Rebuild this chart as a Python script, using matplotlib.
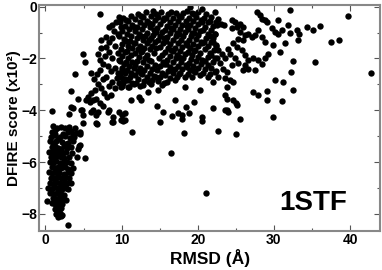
import matplotlib
matplotlib.use("Agg")
import matplotlib.pyplot as plt
from matplotlib.ticker import MultipleLocator

# near-native decoys (low RMSD, low score)
near_rmsd = [1.0, 1.5, 2.0, 2.6, 3.1, 0.8, 1.3, 2.9, 3.4, 4.0, 0.7, 1.1, 1.9, 2.6, 3.2, 3.8,
             0.6, 1.0, 1.4, 2.2, 3.0, 3.6, 4.4, 0.8, 1.2, 1.7, 2.4, 2.8, 3.3,
             0.5, 0.9, 1.3, 1.8, 2.3, 2.7, 3.5, 0.7, 1.1, 1.5, 2.0, 2.5, 3.1, 4.1,
             0.6, 1.0, 1.4, 1.9, 2.2, 2.8, 3.3, 0.8, 1.2, 1.6, 2.1, 2.6, 3.0, 3.6,
             0.5, 0.9, 1.3, 1.8, 2.4, 2.9, 3.4, 0.7, 1.1, 1.5, 2.0, 2.5, 3.1,
             0.6, 1.0, 1.4, 1.9, 2.3, 2.8, 3.3, 0.4, 0.9, 1.3, 1.7, 2.2, 2.7, 3.0,
             0.6, 1.1, 1.5, 2.0, 2.5, 1.0, 1.4, 1.8, 2.3, 2.7, 0.9, 1.3, 1.7, 2.2,
             1.2, 1.6, 2.1, 1.4, 1.9, 2.2, 1.6, 2.0,
             0.15, 3.0, 5.2, 0.9, 3.04,
             1.2, 2.3, 1.6, 2.7, 2.0, 1.0, 2.4, 1.7, 2.6, 1.2, 2.1, 1.6, 2.3, 1.9, 1.5,
             4.3, 3.9, 4.5]
near_score = [-4.62, -4.68, -4.64, -4.70, -4.66, -4.83, -4.78, -4.85, -4.80, -4.88,
              -5.02, -4.97, -5.05, -5.00, -5.08, -5.03,
              -5.20, -5.25, -5.18, -5.22, -5.27, -5.20, -5.37, -5.42, -5.38, -5.45, -5.40, -5.47, -5.43,
              -5.60, -5.63, -5.58, -5.62, -5.66, -5.60, -5.65, -5.80, -5.84, -5.78, -5.82, -5.86, -5.80, -5.82,
              -6.00, -6.04, -5.98, -6.02, -6.06, -6.00, -6.03, -6.20, -6.23, -6.18, -6.24, -6.20, -6.26, -6.22,
              -6.40, -6.44, -6.38, -6.42, -6.46, -6.40, -6.43, -6.60, -6.63, -6.58, -6.62, -6.66, -6.60,
              -6.80, -6.84, -6.78, -6.82, -6.86, -6.80, -6.83, -7.00, -7.04, -6.98, -7.02, -7.06, -7.00, -7.03,
              -7.20, -7.24, -7.18, -7.22, -7.26, -7.40, -7.44, -7.38, -7.42, -7.46, -7.60, -7.64, -7.58, -7.62,
              -7.80, -7.84, -7.78, -8.00, -7.96, -8.03, -8.12, -8.10,
              -7.51, -8.42, -5.86, -4.04, -4.15,
              -4.90, -4.90, -5.10, -5.30, -5.50, -5.70, -5.95, -6.30, -6.50, -6.70, -6.90, -7.10, -7.30, -7.50, -7.70,
              -5.50, -4.70, -4.90]

# rising band between the native cluster and the main cloud
mid_rmsd = [4.97, 5.14, 3.83, 3.4, 4.26, 3.39, 3.6, 4.7, 4.9, 4.85, 6.0, 6.3, 6.9, 6.6, 6.8,
            8.2, 8.4, 8.9, 8.8, 9.7, 10.1, 9.9, 10.4, 10.4,
            5.6, 5.3, 5.9, 6.3, 6.7, 7.2, 7.6, 8.1, 8.6, 6.0, 6.5, 6.9, 7.3, 7.7, 6.4, 6.8, 6.0,
            7.2, 7.5, 8.0, 8.3, 8.7, 9.1, 9.4, 9.7, 10.1, 10.4, 10.8, 6.9, 7.2, 7.6, 7.3, 7.8, 8.2,
            8.6, 8.0, 8.4, 8.8, 9.2, 9.5, 7.98, 7.3, 8.4, 8.8, 9.2, 9.5, 9.8, 10.0, 8.4, 8.7, 9.3,
            9.7, 9.0, 9.5, 9.9, 7.15, 4.96, 6.7, 8.9, 10.2, 4.5, 4.5, 3.65]
mid_score = [-1.83, -2.14, -2.61, -3.25, -3.58, -3.87, -3.93, -4.00, -4.20, -4.00, -4.06, -4.00, -4.06, -4.20, -4.54,
             -4.06, -4.00, -4.25, -4.44, -4.06, -4.19, -4.38, -4.10, -4.37,
             -3.48, -3.60, -3.70, -3.62, -3.55, -3.72, -3.85, -3.50, -3.40, -3.35, -3.20, -3.00, -3.15, -3.35, -2.80, -2.60, -2.56,
             -2.45, -2.80, -2.70, -3.05, -2.90, -3.15, -2.75, -2.95, -3.05, -2.80, -3.10, -1.81, -2.05, -2.20, -1.60, -1.90, -2.30,
             -2.50, -1.55, -1.75, -2.00, -2.35, -2.55, -1.17, -1.30, -1.36, -1.20, -1.50, -1.80, -2.10, -2.45, -0.78, -0.72, -0.59,
             -0.39, -0.95, -1.05, -0.80, -0.30, -4.48, -4.51, -4.45, -4.42, -4.83, -5.35, -4.96]

# dense main cloud, RMSD 10-22
main_rmsd = [10.2, 9.8, 10.4, 10.0, 9.7, 10.3, 10.1, 9.9, 10.4, 10.0, 9.7, 10.3, 10.1, 9.8, 10.4, 10.0, 10.2, 9.9,
             11.2, 10.8, 11.4, 11.0, 10.7, 11.3, 11.1, 10.9, 11.4, 10.7, 11.2, 10.9, 11.4, 11.0, 10.7, 11.3, 11.1, 10.8, 11.4, 11.0, 11.3,
             12.1, 11.8, 12.4, 12.0, 11.7, 12.3, 12.0, 11.8, 12.4, 12.1, 11.7, 12.3, 12.0, 11.8, 12.4, 12.1, 11.7, 12.2, 11.9, 12.4, 12.6, 12.3,
             13.2, 12.8, 13.4, 13.0, 12.7, 13.3, 13.1, 12.8, 13.4, 13.0, 12.7, 13.3, 13.1, 12.8, 13.4, 13.0, 12.7, 13.3, 13.0, 12.8, 13.5,
             14.1, 13.8, 14.4, 14.0, 13.7, 14.3, 14.1, 13.8, 14.4, 14.0, 13.7, 14.3, 13.9, 14.4, 14.0, 13.7, 14.3, 14.0, 13.8, 14.6, 14.8,
             15.2, 14.8, 15.4, 15.0, 14.7, 15.3, 15.0, 14.8, 15.4, 15.1, 15.3, 14.9, 15.4, 15.0, 14.7, 15.3, 15.1, 14.8, 15.3, 15.5, 15.0,
             16.1, 15.8, 16.4, 16.0, 15.7, 16.3, 16.0, 15.8, 16.4, 16.1, 15.7, 16.3, 16.0, 15.8, 16.4, 16.1, 15.7, 16.3, 16.0, 16.6, 16.43,
             17.1, 16.8, 17.4, 17.0, 16.7, 17.3, 17.1, 16.8, 17.4, 17.0, 16.7, 17.3, 17.1, 16.8, 17.4, 17.0, 16.7, 17.3, 17.0, 17.0, 17.4,
             18.1, 17.8, 18.4, 18.0, 17.7, 18.3, 18.1, 17.8, 18.4, 18.0, 17.7, 18.3, 18.1, 17.8, 18.4, 18.0, 17.7, 18.3, 18.3, 17.9, 17.9, 18.5, 18.2,
             18.97, 19.2, 18.8, 19.4, 19.0, 18.7, 19.3, 19.1, 18.8, 19.4, 19.0, 18.7, 19.3, 19.1, 18.8, 19.4, 19.0, 18.7, 19.3, 18.9, 19.5,
             20.1, 19.8, 20.4, 20.0, 19.7, 20.3, 20.0, 19.8, 20.4, 20.1, 19.7, 20.3, 20.0, 19.8, 20.4, 20.1, 19.7, 20.3, 20.3, 20.5, 20.6,
             21.1, 20.8, 21.4, 21.0, 20.7, 21.3, 21.1, 20.8, 21.4, 21.0, 21.3, 20.9, 21.4, 21.0, 20.7, 21.3, 21.15,
             22.3, 21.8, 22.4, 22.0, 21.7, 22.3, 22.0, 21.8, 22.4, 22.1, 21.7, 22.3, 22.0, 21.8, 22.4, 22.0, 22.0, 22.6,
             11.4]
main_score = [-0.42, -0.60, -0.75, -0.95, -1.15, -1.25, -1.45, -1.62, -1.75, -1.90, -2.05, -2.20, -2.35, -2.60, -2.55, -2.75, -2.95, -3.10,
              -0.35, -0.55, -0.70, -0.88, -1.05, -1.15, -1.32, -1.50, -1.60, -1.72, -1.85, -2.00, -2.15, -2.30, -2.45, -2.55, -2.70, -2.85, -2.95, -3.10, -3.60,
              -0.30, -0.48, -0.60, -0.78, -0.95, -1.05, -1.22, -1.40, -1.50, -1.65, -1.80, -1.95, -2.10, -2.25, -2.35, -2.50, -2.65, -2.80, -2.95, -3.05, -3.60, -3.48,
              -0.20, -0.40, -0.55, -0.70, -0.85, -1.00, -1.15, -1.30, -1.42, -1.58, -1.72, -1.85, -2.00, -2.15, -2.30, -2.45, -2.60, -2.72, -2.88, -3.02, -3.30,
              -0.15, -0.35, -0.50, -0.65, -0.80, -0.92, -1.08, -1.22, -1.35, -1.50, -1.65, -1.78, -2.10, -2.25, -2.40, -2.55, -2.68, -2.82, -2.98, -3.83, -3.20,
              -0.20, -0.38, -0.52, -0.68, -0.83, -0.97, -1.12, -1.28, -1.40, -1.55, -1.85, -2.00, -2.15, -2.30, -2.45, -2.58, -2.72, -2.88, -3.02, -4.06, -4.47,
              -0.30, -0.45, -0.60, -0.75, -0.90, -1.02, -1.18, -1.32, -1.45, -1.60, -1.75, -1.90, -2.05, -2.20, -2.32, -2.48, -2.62, -2.75, -2.90, -4.21, -5.67,
              -0.25, -0.42, -0.55, -0.70, -0.88, -1.00, -1.15, -1.30, -1.42, -1.58, -1.72, -1.85, -2.00, -2.15, -2.28, -2.42, -2.58, -2.70, -2.85, -3.60, -4.10,
              -0.25, -0.40, -0.55, -0.70, -0.85, -0.98, -1.12, -1.28, -1.40, -1.55, -1.70, -1.82, -1.98, -2.12, -2.25, -2.40, -2.55, -2.70, -3.10, -4.19, -4.34, -3.89, -4.87,
              -0.02, -0.25, -0.42, -0.55, -0.72, -0.88, -1.00, -1.15, -1.30, -1.45, -1.60, -1.75, -1.88, -2.02, -2.18, -2.30, -2.45, -2.60, -2.72, -4.12, -3.68,
              -0.20, -0.38, -0.52, -0.68, -0.82, -0.95, -1.10, -1.25, -1.38, -1.52, -1.68, -1.80, -1.95, -2.10, -2.22, -2.38, -2.52, -2.65, -3.22, -4.25, -4.41,
              -0.30, -0.45, -0.60, -0.78, -0.92, -1.05, -1.22, -1.38, -1.50, -1.65, -1.95, -2.10, -2.25, -2.40, -2.55, -2.70, -7.19,
              -0.20, -0.40, -0.58, -0.75, -0.90, -1.05, -1.20, -1.38, -1.50, -1.68, -1.85, -2.00, -2.15, -2.35, -2.50, -2.90, -3.93, -4.79,
              -4.86]

# extra decoys filling the gaps of the main cloud
fill_rmsd = [10.55, 10.55, 10.55, 10.55, 11.6, 11.6, 11.6, 11.6, 12.5, 12.5, 12.5, 12.5,
             13.55, 13.55, 13.55, 13.55, 14.5, 14.5, 14.5, 14.5, 15.6, 15.6, 15.6, 15.6,
             16.55, 16.55, 16.55, 16.55, 17.5, 17.5, 17.5, 17.5, 18.6, 18.6, 18.6, 18.6,
             19.55, 19.55, 19.55, 19.55, 20.5, 20.5, 20.5, 20.5, 21.6, 21.6, 21.6, 21.6]
fill_score = [-0.52, -1.33, -2.12, -2.83, -0.78, -1.41, -2.38, -3.00, -0.36, -1.12, -1.74, -2.57,
              -0.62, -1.27, -2.06, -2.91, -0.27, -0.98, -1.58, -2.73, -0.45, -1.20, -2.22, -2.95,
              -0.20, -0.83, -1.66, -2.40, -0.35, -1.05, -1.93, -2.60, -0.15, -0.75, -1.47, -2.33,
              -0.30, -1.02, -1.70, -2.50, -0.10, -0.60, -1.42, -2.05, -0.55, -1.15, -1.80, -2.60]

# sparser decoys at high RMSD
far_rmsd = [22.6, 22.5, 23.0, 23.4, 22.29, 22.07, 22.37, 22.72, 23.16, 23.6, 22.5, 22.94, 23.38, 23.82, 22.29, 22.72,
            23.6, 24.26, 24.69, 24.47, 24.9, 25.13, 24.56, 25.57, 26.0, 25.57, 26.22, 26.66, 27.1, 27.54, 26.0, 25.35,
            24.69, 25.13, 25.79, 26.22, 26.66, 27.32, 27.97, 28.41, 27.54, 26.66, 26.22, 26.0, 25.35, 24.9, 24.26, 24.04,
            24.47, 23.82, 23.6, 23.82, 24.69, 25.0, 23.82, 29.94, 27.32, 27.97, 29.07, 29.07, 30.16, 31.25, 32.57, 31.04,
            32.26, 32.57, 30.82, 29.94, 29.29, 28.85, 31.47, 33.22, 33.0, 33.31, 31.91, 30.6, 29.72, 30.16, 30.6, 31.04,
            32.13, 27.75, 28.19, 28.41, 28.85, 29.07, 27.97, 28.41, 28.85, 32.1,
            23.6, 24.0, 25.1, 25.5, 25.0,
            39.7, 34.4, 35.1, 36.1, 37.5, 38.5, 35.4, 42.7]
far_score = [-0.46, -0.71, -0.65, -0.71, -1.04, -1.36, -1.49, -1.68, -1.81, -2.00, -2.00, -2.19, -2.39, -2.52, -2.52, -2.71,
             -2.77, -2.84, -2.90, -0.52, -0.59, -0.78, -0.84, -0.65, -0.78, -0.97, -1.10, -1.04, -1.17, -1.10, -1.29, -1.23,
             -1.42, -1.55, -1.68, -1.87, -2.07, -2.00, -2.07, -2.20, -2.45, -2.39, -2.26, -2.45, -2.19, -2.00, -1.81, -1.62,
             -2.26, -3.10, -3.42, -3.55, -3.61, -3.74, -4.00, -4.25, -3.29, -3.42, -3.25, -3.61, -2.84, -2.90, -3.22, -3.65,
             -2.52, -2.09, -1.74, -1.49, -1.81, -2.00, -1.42, -1.29, -0.91, -1.04, -0.71, -0.52, -0.84, -0.97, -1.04, -0.91,
             -0.14, -0.20, -0.33, -0.46, -0.52, -0.59, -0.91, -1.17, -1.36, -1.00,
             -4.00, -4.06, -3.80, -4.32, -4.90,
             -0.37, -0.80, -0.91, -0.74, -1.36, -1.29, -2.14, -2.56]

label_font = ["Liberation Sans", "DejaVu Sans"]

fig = plt.figure(figsize=(3.82, 2.70), dpi=100)
ax = fig.add_axes([0.102, 0.144, 0.894, 0.837])

for xs, ys in [(near_rmsd, near_score), (mid_rmsd, mid_score), (main_rmsd, main_score),
               (fill_rmsd, fill_score), (far_rmsd, far_score)]:
    ax.scatter(xs, ys, s=21, c="black", linewidths=0)

ax.set_xlim(-0.85, 44.0)
ax.set_ylim(-8.67, 0.06)
ax.xaxis.set_major_locator(MultipleLocator(10))
ax.xaxis.set_minor_locator(MultipleLocator(5))
ax.yaxis.set_major_locator(MultipleLocator(2))
ax.yaxis.set_minor_locator(MultipleLocator(1))
ax.tick_params(which="both", direction="in", top=True, right=True,
               color="#555555", width=0.8)
ax.tick_params(which="major", length=4, labelsize=10, pad=1.5)
ax.tick_params(which="minor", length=2.5)
for lab in ax.get_xticklabels() + ax.get_yticklabels():
    lab.set_fontfamily(label_font)
    lab.set_fontweight("bold")
for sp in ax.spines.values():
    sp.set_color("#888888")
    sp.set_linewidth(1.5)

ax.set_xlabel("RMSD (Å)", fontsize=12.5, fontweight="bold", family=label_font, labelpad=1)
ax.set_ylabel("DFIRE score (x10²)", fontsize=11, fontweight="bold", family=label_font)
ax.yaxis.set_label_coords(-0.052, 0.5)
ax.text(0.902, 0.093, "1STF", transform=ax.transAxes, ha="right", va="baseline",
        fontsize=20, fontweight="bold", family=label_font)

fig.savefig("out.png", dpi=100)
